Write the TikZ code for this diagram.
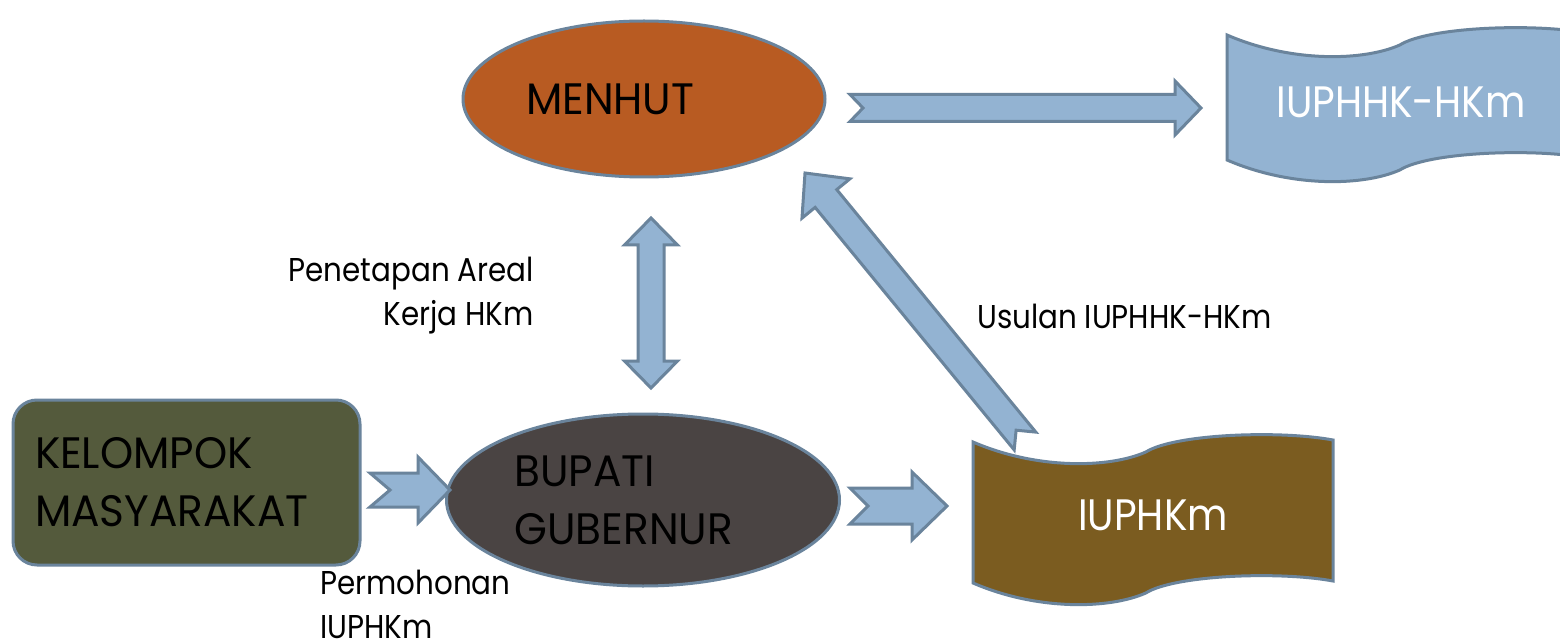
\documentclass[tikz,border=0pt]{standalone}
\usepackage{fontspec}
\setmainfont[FakeStretch=0.89]{Poppins}
\newfontfamily\widefont[FakeStretch=0.96]{Poppins}
\usetikzlibrary{shapes.geometric,calc,positioning}
\definecolor{cRust}{RGB}{184,91,34}
\definecolor{cCoal}{RGB}{74,68,67}
\definecolor{cOlive}{RGB}{84,90,60}
\definecolor{cBrown}{RGB}{123,92,32}
\definecolor{cSky}{RGB}{147,179,210}
\definecolor{cEdge}{RGB}{106,132,156}
\newcommand\bigfont{\fontsize{44}{58}\selectfont}
\newcommand\smallfont{\fontsize{33}{44}\selectfont}
\tikzset{
  basenode/.style={draw=cEdge,line width=3pt,font=\widefont\bigfont},
  ovalnode/.style={basenode,ellipse,align=left,inner sep=0pt},
  boxnode/.style={basenode,rectangle,rounded corners=24pt,align=left,
                  inner xsep=22pt,inner ysep=0pt},
  wavebox/.style={draw=cEdge,line width=3pt},
  wavetext/.style={font=\bigfont,text=white,inner sep=0pt},
  blockarr/.style={draw=cEdge,fill=cSky,line width=3pt,line join=miter},
  lbl/.style={font=\smallfont,inner sep=0pt}
}
% tail, tip, half shaft, half head, head length, notch
\newcommand\blockarrow[6]{%
  \coordinate (ba-h) at ($(#2)!#5!(#1)$);
  \coordinate (ba-n) at ($(#1)!#6!(#2)$);
  \draw[blockarr] ($(#1)!#3!90:(#2)$) -- (ba-n) -- ($(#1)!#3!-90:(#2)$)
    -- ($(ba-h)!#3!-90:(#2)$) -- ($(ba-h)!#4!-90:(#2)$) -- (#2)
    -- ($(ba-h)!#4!90:(#2)$) -- ($(ba-h)!#3!90:(#2)$) -- cycle;
}
\newcommand\dblarrow[5]{%
  \coordinate (da-a) at ($(#1)!#5!(#2)$);
  \coordinate (da-b) at ($(#2)!#5!(#1)$);
  \draw[blockarr] (#1) -- ($(da-a)!#4!90:(#2)$) -- ($(da-a)!#3!90:(#2)$)
    -- ($(da-b)!#3!-90:(#1)$) -- ($(da-b)!#4!-90:(#1)$) -- (#2)
    -- ($(da-b)!#4!90:(#1)$) -- ($(da-b)!#3!90:(#1)$)
    -- ($(da-a)!#3!-90:(#2)$) -- ($(da-a)!#4!-90:(#2)$) -- cycle;
}
% left, top, width, height, fill
\newcommand\wavedoc[5]{%
  \draw[wavebox,fill=#5] (#1,#2)
    .. controls ({#1+0.18*#3},{#2+28}) and ({#1+0.38*#3},{#2+26}) .. ({#1+0.48*#3},{#2+10})
    .. controls ({#1+0.56*#3},{#2-8}) and ({#1+0.85*#3},{#2-12}) .. ({#1+#3},{#2-2})
    -- ({#1+#3},{#2-2+#4})
    .. controls ({#1+0.85*#3},{#2-12+#4}) and ({#1+0.56*#3},{#2-8+#4}) .. ({#1+0.48*#3},{#2+10+#4})
    .. controls ({#1+0.38*#3},{#2+26+#4}) and ({#1+0.18*#3},{#2+28+#4}) .. (#1,{#2+#4}) -- cycle;
}

\begin{document}
\begin{tikzpicture}[x=1pt,y=-1pt]
  \fill[white] (0,0) rectangle (1560,644);
  \clip (0,0) rectangle (1560,644);

  \node[ovalnode,fill=cRust,minimum width=362pt,minimum height=156pt,
        text width=236pt] (menhut) at (644,99) {MENHUT};
  \node[ovalnode,fill=cCoal,minimum width=393pt,minimum height=172pt,
        text width=257pt] (bupati) at (643,500) {BUPATI\\GUBERNUR};
  \node[boxnode,fill=cOlive,minimum width=347pt,minimum height=165pt,
        text width=303pt] (kelompok) at (186.5,482.5) {KELOMPOK\\MASYARAKAT};

  \wavedoc{973}{442}{360}{141}{cBrown}
  \node[wavetext] (iuphkm) at (1153,515) {IUPHKm};
  \wavedoc{1227}{35}{360}{125}{cSky}
  \node[wavetext] (iuphhk) at (1401,102) {IUPHHK-HKm};

  \node[lbl,align=right,anchor=east] (penetapan) at (534,296)
      {Penetapan Areal\\Kerja HKm};
  \node[lbl,anchor=west] (usulan) at (977,316) {Usulan IUPHHK-HKm};
  \node[lbl,align=left,anchor=west] (permohonan) at (320,604)
      {Permohonan\\IUPHKm};

  \coordinate (menhut-out) at (850,108);
  \coordinate (iuphhk-in) at (1201,108);
  \coordinate (kelompok-out) at (370,490);
  \coordinate (bupati-in) at (450,490);
  \coordinate (bupati-out) at (850,506);
  \coordinate (iuphkm-in) at (947,506);
  \coordinate (menhut-low) at (651,218);
  \coordinate (bupati-top) at (651,388);
  \coordinate (iuphkm-top) at (1025,441);
  \coordinate (menhut-in) at (805,173);

  \blockarrow{menhut-out}{iuphhk-in}{13.5pt}{27pt}{26pt}{13pt}
  \blockarrow{kelompok-out}{bupati-in}{17pt}{33pt}{32pt}{20pt}
  \blockarrow{bupati-out}{iuphkm-in}{18pt}{34pt}{35pt}{18pt}
  \dblarrow{menhut-low}{bupati-top}{13pt}{26.5pt}{27pt}
  \blockarrow{iuphkm-top}{menhut-in}{14pt}{31pt}{33pt}{14pt}
\end{tikzpicture}
\end{document}
